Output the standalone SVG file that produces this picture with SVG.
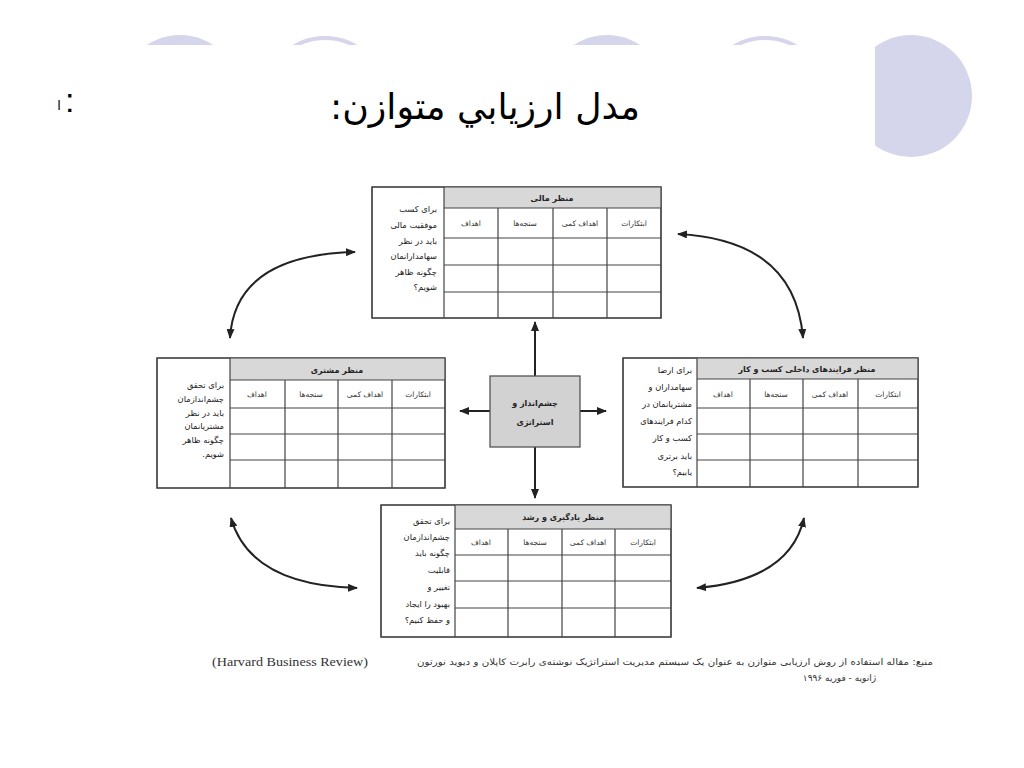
<svg xmlns="http://www.w3.org/2000/svg" width="1024" height="768" viewBox="0 0 1024 768">
<defs>
<style>
.fa{font-family:"DejaVu Sans",sans-serif;direction:rtl;unicode-bidi:embed}
.cell{font-size:7.5px;fill:#333;text-anchor:middle}
.hd{font-size:8px;font-weight:bold;fill:#222;text-anchor:middle}
.q{font-size:8.3px;fill:#222;text-anchor:start}
.box{fill:#fff;stroke:#444;stroke-width:1.3}
.hdr{fill:#d8d8d8;stroke:none}
.grid{stroke:#444;stroke-width:1.2;fill:none}
.conn{stroke:#222;stroke-width:2;fill:none}
.deco{fill:#d5d5ec}
.deco2{fill:#fff;stroke:#d5d5ec;stroke-width:4}
</style>
<marker id="ah" viewBox="0 0 10 8" refX="9" refY="4" markerWidth="10" markerHeight="8" markerUnits="userSpaceOnUse" orient="auto-start-reverse">
<path d="M0,0 L10,4 L0,8 z" fill="#222"/>
</marker>
</defs>
<rect width="1024" height="768" fill="#fff"/>
<g id="decoration">
<circle class="deco" cx="180" cy="96" r="61"/>
<circle class="deco2" cx="325" cy="98" r="60"/>
<circle class="deco" cx="607" cy="96" r="61"/>
<circle class="deco2" cx="765" cy="98" r="60"/>
<circle class="deco" cx="911" cy="96" r="61"/>
<rect x="0" y="45" width="875" height="130" fill="#fff"/>
</g>
<g id="title">
<text class="fa" x="640" y="119" font-size="36" fill="#000" text-anchor="start" textLength="310" lengthAdjust="spacingAndGlyphs">مدل ارزيابي متوازن:</text>
<text x="65" y="112" font-family="Liberation Sans, sans-serif" font-size="34" fill="#000">:</text>
<text class="fa" x="59" y="110" font-size="13" fill="#000" text-anchor="middle">ا</text>
</g>
<g id="connectors">
<path class="conn" d="M535,376 V322" marker-end="url(#ah)"/>
<path class="conn" d="M535,447 V498" marker-end="url(#ah)"/>
<path class="conn" d="M490,411 H460" marker-end="url(#ah)"/>
<path class="conn" d="M580,411 H606" marker-end="url(#ah)"/>
<path class="conn" d="M230,338 Q235,255 355,252" marker-start="url(#ah)" marker-end="url(#ah)"/>
<path class="conn" d="M678,234 Q795,240 803,338" marker-start="url(#ah)" marker-end="url(#ah)"/>
<path class="conn" d="M231,518 Q250,585 357,588" marker-start="url(#ah)" marker-end="url(#ah)"/>
<path class="conn" d="M697,588 Q790,580 804,518" marker-start="url(#ah)" marker-end="url(#ah)"/>
</g>
<g id="financial">
<rect class="box" x="372" y="187" width="289" height="131"/>
<rect class="hdr" x="444" y="187" width="217" height="21"/>
<path class="grid" d="M372,187 H661 V318 H372 Z M444,187 V318 M444,208 H661 M444,238 H661 M444,265 H661 M444,292 H661 M498,208 V318 M553,208 V318 M607,208 V318"/>
<text class="fa hd" x="552" y="201">منظر مالی</text>
<text class="fa cell" x="471" y="226">اهداف</text>
<text class="fa cell" x="525" y="226">سنجه‌ها</text>
<text class="fa cell" x="580" y="226">اهداف کمی</text>
<text class="fa cell" x="634" y="226">ابتکارات</text>
<text class="fa q" x="437" y="212">برای کسب</text>
<text class="fa q" x="437" y="228">موفقیت مالی</text>
<text class="fa q" x="437" y="244">باید در نظر</text>
<text class="fa q" x="437" y="259">سهامدارانمان</text>
<text class="fa q" x="437" y="275">چگونه ظاهر</text>
<text class="fa q" x="437" y="290">شویم؟</text>
</g>
<g id="customer">
<rect class="box" x="157" y="358" width="288" height="130"/>
<rect class="hdr" x="230" y="358" width="215" height="22"/>
<path class="grid" d="M157,358 H445 V488 H157 Z M230,358 V488 M230,380 H445 M230,408 H445 M230,434 H445 M230,460 H445 M285,380 V488 M338,380 V488 M392,380 V488"/>
<text class="fa hd" x="337" y="373">منظر مشتری</text>
<text class="fa cell" x="257" y="397">اهداف</text>
<text class="fa cell" x="311" y="397">سنجه‌ها</text>
<text class="fa cell" x="365" y="397">اهداف کمی</text>
<text class="fa cell" x="418" y="397">ابتکارات</text>
<text class="fa q" x="224" y="388">برای تحقق</text>
<text class="fa q" x="224" y="402">چشم‌اندازمان</text>
<text class="fa q" x="224" y="416">باید در نظر</text>
<text class="fa q" x="224" y="429">مشتریانمان</text>
<text class="fa q" x="224" y="443">چگونه ظاهر</text>
<text class="fa q" x="224" y="457">شویم.</text>
</g>
<g id="internal">
<rect class="box" x="623" y="358" width="295" height="129"/>
<rect class="hdr" x="697" y="358" width="221" height="21"/>
<path class="grid" d="M623,358 H918 V487 H623 Z M697,358 V487 M697,379 H918 M697,408 H918 M697,434 H918 M697,460 H918 M750,379 V487 M803,379 V487 M858,379 V487"/>
<text class="fa hd" x="807" y="372">منظر فرایندهای داخلی کسب و کار</text>
<text class="fa cell" x="723" y="397">اهداف</text>
<text class="fa cell" x="776" y="397">سنجه‌ها</text>
<text class="fa cell" x="830" y="397">اهداف کمی</text>
<text class="fa cell" x="888" y="397">ابتکارات</text>
<text class="fa q" x="692" y="373">برای ارضا</text>
<text class="fa q" x="692" y="390">سهامداران و</text>
<text class="fa q" x="692" y="407">مشتریانمان در</text>
<text class="fa q" x="692" y="424">کدام فرایندهای</text>
<text class="fa q" x="692" y="441">کسب و کار</text>
<text class="fa q" x="692" y="459">باید برتری</text>
<text class="fa q" x="692" y="475">یابیم؟</text>
</g>
<g id="learning">
<rect class="box" x="381" y="505" width="290" height="132"/>
<rect class="hdr" x="455" y="505" width="216" height="24"/>
<path class="grid" d="M381,505 H671 V637 H381 Z M455,505 V637 M455,529 H671 M455,555 H671 M455,581 H671 M455,608 H671 M508,529 V637 M562,529 V637 M615,529 V637"/>
<text class="fa hd" x="563" y="520">منظر یادگیری و رشد</text>
<text class="fa cell" x="481" y="545">اهداف</text>
<text class="fa cell" x="535" y="545">سنجه‌ها</text>
<text class="fa cell" x="588" y="545">اهداف کمی</text>
<text class="fa cell" x="643" y="545">ابتکارات</text>
<text class="fa q" x="450" y="524">برای تحقق</text>
<text class="fa q" x="450" y="540">چشم‌اندازمان</text>
<text class="fa q" x="450" y="556">چگونه باید</text>
<text class="fa q" x="450" y="573">قابلیت</text>
<text class="fa q" x="450" y="590">تغییر و</text>
<text class="fa q" x="450" y="607">بهبود را ایجاد</text>
<text class="fa q" x="450" y="623">و حفظ کنیم؟</text>
</g>
<g id="vision">
<rect x="490" y="376" width="90" height="71" fill="#d2d2d2" stroke="#555" stroke-width="1.3"/>
<text class="fa hd" x="535" y="406" font-size="10">چشم‌انداز و</text>
<text class="fa hd" x="535" y="425" font-size="10">استراتژی</text>
</g>
<g id="caption">
<text x="212" y="666" font-family="Liberation Serif, serif" font-size="13" fill="#333" textLength="156" lengthAdjust="spacingAndGlyphs">(Harvard Business Review)</text>
<text class="fa" x="933" y="665" font-size="9" fill="#333" text-anchor="start" textLength="516" lengthAdjust="spacingAndGlyphs">منبع: مقاله استفاده از روش ارزیابی متوازن به عنوان یک سیستم مدیریت استراتژیک نوشته‌ی رابرت کاپلان و دیوید نورتون</text>
<text class="fa" x="876" y="681" font-size="9" fill="#333" text-anchor="start">ژانویه - فوریه ۱۹۹۶</text>
</g>
</svg>
